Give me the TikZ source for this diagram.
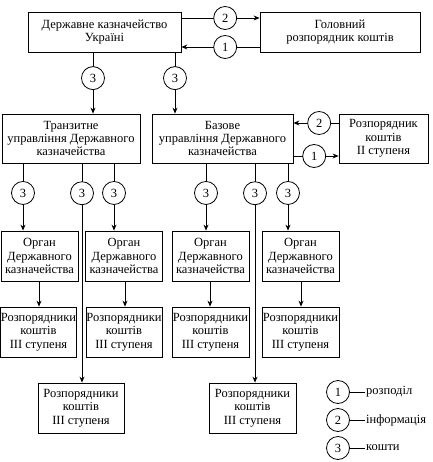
\documentclass[tikz,border=0pt]{standalone}
\usepackage{fontspec}
\setmainfont{Liberation Serif}
\usetikzlibrary{arrows.meta}
\begin{document}
\begin{tikzpicture}[x=1pt,y=-1pt,
  every node/.style={font=\fontsize{12.5}{13.3}\selectfont},
  box/.style={draw,line width=0.8pt,align=center,inner sep=0pt,fill=white},
  circ/.style={draw,circle,line width=0.8pt,fill=white,minimum size=23pt,inner sep=0pt},
  ln/.style={line width=0.8pt},
  arr/.style={line width=0.8pt,-{Stealth[length=6pt,width=5pt]}}]
\useasboundingbox (0,0) rectangle (432,462);
% boxes
\node[box,minimum width=153pt,minimum height=40pt] (b1) at (104.5,32) {Державне казначейство\\Україні};
\node[box,minimum width=160pt,minimum height=40pt] (b2) at (340,32) {Головний\\розпорядник коштів};
\node[box,minimum width=138pt,minimum height=49pt] (b3) at (71,138.5) {Транзитне\\управління Державного\\казначейства};
\node[box,minimum width=141pt,minimum height=49pt] (b4) at (222.5,138.5) {Базове\\управління Державного\\казначейства};
\node[box,minimum width=89pt,minimum height=49pt] (b5) at (383.5,138.5) {Розпорядник\\коштів\\II ступеня};
\foreach \n/\x in {1/39.5,2/124,3/210.5,4/300.5}{
  \node[box,minimum width=77pt,minimum height=50pt] (o\n) at (\x,256) {Орган\\Державного\\казначейства};
}
\node[box,minimum width=75pt,minimum height=50pt] (r1) at (38.5,332) {Розпорядники\\коштів\\III ступеня};
\node[box,minimum width=76pt,minimum height=50pt] (r2) at (124,332) {Розпорядники\\коштів\\III ступеня};
\node[box,minimum width=77pt,minimum height=50pt] (r3) at (210.5,332) {Розпорядники\\коштів\\III ступеня};
\node[box,minimum width=77pt,minimum height=50pt] (r4) at (300.5,332) {Розпорядники\\коштів\\III ступеня};
\node[box,minimum width=86pt,minimum height=50pt] (u1) at (81,408) {Розпорядники\\коштів\\III ступеня};
\node[box,minimum width=87pt,minimum height=50pt] (u2) at (252.5,408) {Розпорядники\\коштів\\III ступеня};
% top horizontal
\draw[arr] (b1.east |- 0,18) -- node[circ,pos=0.56]{2} (b2.west |- 0,18);
\draw[arr] (b2.west |- 0,47) -- node[circ,pos=0.44]{1} (b1.east |- 0,47);
% box5 <-> box4
\draw[arr] (b5.west |- 0,123) -- node[circ,pos=0.43]{2} (b4.east |- 0,123);
\draw[arr] (b4.east |- 0,156) -- node[circ,pos=0.46]{1} (b5.west |- 0,156);
% box1 -> box3, box4
\draw[arr] (b1.south -| 93,0) -- node[circ,pos=0.42]{3} (b3.north -| 93,0);
\draw[arr] (b1.south -| 175,0) -- node[circ,pos=0.42]{3} (b4.north -| 175,0);
% box3 -> organs
\draw[arr] (b3.south -| 23,0) -- node[circ,pos=0.44]{3} (o1.north -| 23,0);
\draw[arr] (b3.south -| 114,0) -- node[circ,pos=0.44]{3} (o2.north -| 114,0);
\draw[arr] (b3.south -| 82,0) -- node[circ,pos=0.136]{3} (u1.north -| 82,0);
% box4 -> organs
\draw[arr] (b4.south -| 206,0) -- node[circ,pos=0.44]{3} (o3.north -| 206,0);
\draw[arr] (b4.south -| 288,0) -- node[circ,pos=0.44]{3} (o4.north -| 288,0);
\draw[arr] (b4.south -| 255,0) -- node[circ,pos=0.136]{3} (u2.north -| 255,0);
% organ -> rozp
\draw[arr] (o1.south -| 39,0) -- (r1.north -| 39,0);
\draw[arr] (o2.south -| 125,0) -- (r2.north -| 125,0);
\draw[arr] (o3.south -| 210,0) -- (r3.north -| 210,0);
\draw[arr] (o4.south -| 301,0) -- (r4.north -| 301,0);
% legend
\node[circ] (l1) at (338,392) {1};
\node[circ] (l2) at (338,420) {2};
\node[circ] (l3) at (338,448) {3};
\coordinate (e1) at (365,392);
\coordinate (e2) at (365,420);
\coordinate (e3) at (365,448);
\draw[ln] (l1) -- (e1);
\draw[ln] (l2) -- (e2);
\draw[ln] (l3) -- (e3);
\node[anchor=west,inner sep=1pt] (t1) at (e1) {розподіл};
\node[anchor=west,inner sep=1pt] (t2) at (e2) {інформація};
\node[anchor=west,inner sep=1pt] (t3) at (e3) {кошти};
\end{tikzpicture}
\end{document}
